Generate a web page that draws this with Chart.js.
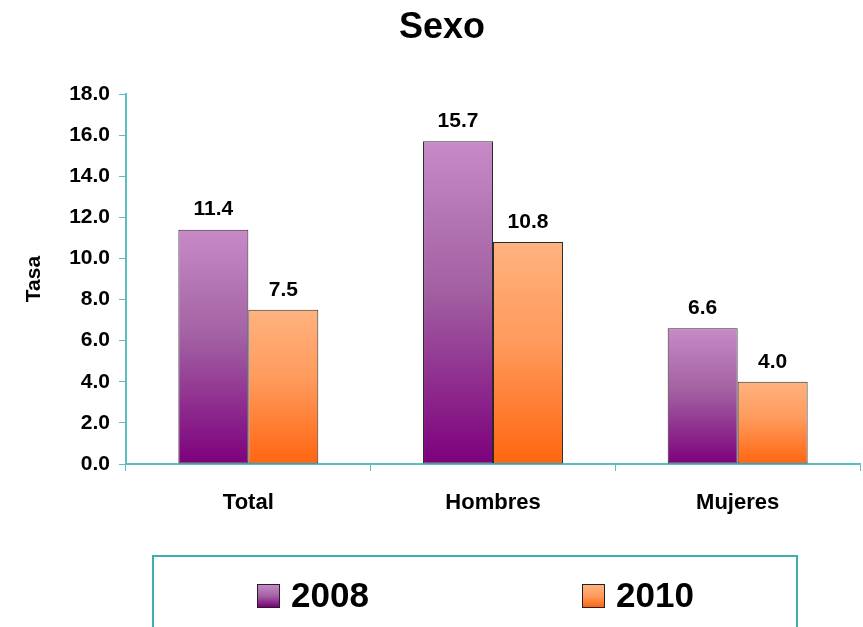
<!DOCTYPE html>
<html>
<head>
<meta charset="utf-8">
<script src="https://cdn.jsdelivr.net/npm/chart.js@4"></script>
<style>
  html, body { margin: 0; padding: 0; background: #fff; }
  #wrap { position: relative; width: 863px; height: 627px; overflow: hidden; }
  #chart { position: absolute; left: 0; top: 0; }
  #legend {
    position: absolute; left: 152px; top: 555px; width: 646px; height: 100px;
    border: 2px solid #3bb0b0; box-sizing: border-box;
    font-family: 'Liberation Sans', Arial, sans-serif; font-weight: bold; font-size: 35px;
  }
  .item { position: absolute; top: 26px; height: 26px; line-height: 26px; white-space: nowrap; }
  .sw { position: absolute; top: 1px; left: 0; width: 23px; height: 24px; box-sizing: border-box; border: 1px solid #222; }
  .lbl { position: absolute; left: 34px; top: -1px; }
</style>
</head>
<body>
<div id="wrap">
  <canvas id="chart" width="863" height="627"></canvas>
  <div id="legend"></div>
</div>
<script>
// data
const categories  = ['Total', 'Hombres', 'Mujeres'];
const seriesNames = ['2008', '2010'];
const values2008  = [11.4, 15.7, 6.6];
const values2010  = [7.5, 10.8, 4.0];
const yMin = 0, yMax = 18, yStep = 2;
const titleText = 'Sexo';

const FONT  = "'Liberation Sans', Arial, sans-serif";
const TEAL  = '#5cbfbf';
const PURPLE = ['#c78ac7', '#a362a3', '#7d007d'];
const ORANGE = ['#ffb27f', '#ff9a5c', '#ff6510'];

// gradient per bar, from its top down to zero
function barGradient(stops) {
  return ctx => {
    const chart = ctx.chart;
    const y = chart.scales.y;
    if (!y || ctx.raw == null) return stops[2];
    const yTop  = y.getPixelForValue(ctx.raw);
    const yBase = y.getPixelForValue(0);
    if (!isFinite(yTop) || !isFinite(yBase) || yTop === yBase) return stops[2];
    const g = chart.ctx.createLinearGradient(0, yTop, 0, yBase);
    g.addColorStop(0, stops[0]);
    g.addColorStop(0.45, stops[1]);
    g.addColorStop(1, stops[2]);
    return g;
  };
}

const valueLabels = {
  id: 'valueLabels',
  afterDatasetsDraw(chart) {
    const c = chart.ctx;
    c.save();
    c.font = 'bold 21px ' + FONT;
    c.fillStyle = '#000';
    c.textAlign = 'center';
    c.textBaseline = 'middle';
    chart.data.datasets.forEach((ds, i) => {
      chart.getDatasetMeta(i).data.forEach((bar, j) => {
        c.fillText(ds.data[j].toFixed(1), bar.x, bar.y - 20);
      });
    });
    c.restore();
  }
};

// title sits a bit right of the canvas centre in the original
const chartTitle = {
  id: 'chartTitle',
  afterDraw(chart) {
    const c = chart.ctx;
    c.save();
    c.font = 'bold 36px ' + FONT;
    c.fillStyle = '#000';
    c.textAlign = 'center';
    c.textBaseline = 'middle';
    c.fillText(titleText, 442, 28);
    c.restore();
  }
};

new Chart(document.getElementById('chart'), {
  type: 'bar',
  data: {
    labels: categories,
    datasets: [
      { label: seriesNames[0], data: values2008, backgroundColor: barGradient(PURPLE),
        borderColor: '#2a2a2a', borderWidth: 1, borderSkipped: false },
      { label: seriesNames[1], data: values2010, backgroundColor: barGradient(ORANGE),
        borderColor: '#2a2a2a', borderWidth: 1, borderSkipped: false }
    ]
  },
  options: {
    responsive: false,
    animation: false,
    layout: { padding: { left: 0, right: 3, top: 94, bottom: 0 } },
    datasets: { bar: { categoryPercentage: 0.572, barPercentage: 1.0 } },
    plugins: {
      legend: { display: false },
      tooltip: { enabled: false },
      title: { display: false }
    },
    scales: {
      x: {
        afterFit: s => { s.height = 163; },
        grid: { offset: true, drawOnChartArea: false, color: TEAL, tickLength: 7 },
        border: { color: TEAL, width: 2 },
        ticks: { color: '#000', padding: 19, font: { family: FONT, size: 22, weight: 'bold' } }
      },
      y: {
        min: yMin, max: yMax,
        afterFit: s => { s.width = 126; },
        grid: { drawOnChartArea: false, color: TEAL, tickLength: 7 },
        border: { color: TEAL, width: 2 },
        ticks: {
          stepSize: yStep, color: '#000', padding: 9,
          font: { family: FONT, size: 21, weight: 'bold' },
          callback: v => Number(v).toFixed(1)
        },
        title: {
          display: true, text: 'Tasa', color: '#000',
          font: { family: FONT, size: 21, weight: 'bold' },
          padding: { top: 22, bottom: 0 }
        }
      }
    }
  },
  plugins: [valueLabels, chartTitle]
});

// legend
const legend = document.getElementById('legend');
const legendPos = [103, 428];
[PURPLE, ORANGE].forEach((stops, i) => {
  const item = document.createElement('div');
  item.className = 'item';
  item.style.left = legendPos[i] + 'px';
  item.innerHTML = `<span class="sw" style="background:linear-gradient(${stops[0]},${stops[1]} 50%,${stops[2]})"></span>` +
                   `<span class="lbl">${seriesNames[i]}</span>`;
  legend.appendChild(item);
});
</script>
</body>
</html>
